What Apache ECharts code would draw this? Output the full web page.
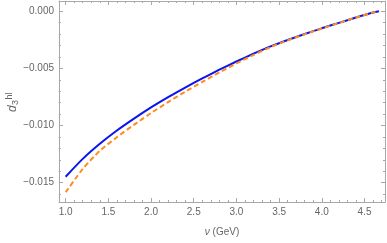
<!DOCTYPE html>
<html>
<head>
<meta charset="utf-8">
<script src="https://cdn.jsdelivr.net/npm/echarts@6/dist/echarts.min.js"></script>
<style>html,body{margin:0;padding:0;background:#fff}#c{width:387px;height:243px}</style>
</head>
<body>
<div id="c"></div>
<script>
var X_VALUES = [1.0,1.2,1.4,1.6,1.8,2.0,2.2,2.4,2.6,2.8,3.0,3.2,3.4,3.6,3.8,4.0,4.2,4.4,4.6,4.67];
var BLUE_SOLID = [-0.01448,-0.01292,-0.01160,-0.01044,-0.00940,-0.00842,-0.00752,-0.00668,-0.00588,-0.00512,-0.00440,-0.00372,-0.00308,-0.00252,-0.00200,-0.00150,-0.00102,-0.00056,-0.00012,0];
var ORANGE_DASHED = [-0.01584,-0.01380,-0.01222,-0.01102,-0.00994,-0.00891,-0.00795,-0.00705,-0.00619,-0.00536,-0.00457,-0.00383,-0.00314,-0.00255,-0.00202,-0.00151,-0.00103,-0.00056,-0.00012,0];
var X_TICKS = [1.0,1.5,2.0,2.5,3.0,3.5,4.0,4.5];
var X_MINOR = [1.1,1.2,1.3,1.4,1.6,1.7,1.8,1.9,2.1,2.2,2.3,2.4,2.6,2.7,2.8,2.9,3.1,3.2,3.3,3.4,3.6,3.7,3.8,3.9,4.1,4.2,4.3,4.4,4.6,4.7];
var Y_TICKS = [-0.015,-0.010,-0.005,0.000];
var Y_MINOR = [-0.016,-0.014,-0.013,-0.012,-0.011,-0.009,-0.008,-0.007,-0.006,-0.004,-0.003,-0.002,-0.001];
var X_RANGE = [0.922, 4.74];
var Y_RANGE = [-0.01669, 0.00089];

var FRAME = '#a8a8a8';
var LABEL = '#666666';
var FONT = 'Liberation Sans, Arial, sans-serif';

function pair(a, b) { return a.map(function (v, i) { return [v, b[i]]; }); }

function xAx(pos, ticks, len, labels, line) {
  return {
    type: 'value', position: pos, min: X_RANGE[0], max: X_RANGE[1],
    axisLine: { show: line, onZero: false, lineStyle: { color: FRAME, width: 1 } },
    axisTick: { show: true, inside: true, length: len, customValues: ticks, lineStyle: { color: FRAME } },
    axisLabel: labels ? { show: true, customValues: ticks, color: LABEL, fontFamily: FONT, fontSize: 10, margin: 5,
      formatter: function (v) { return v.toFixed(1); } } : { show: false },
    splitLine: { show: false }
  };
}
function yAx(pos, ticks, len, labels, line) {
  return {
    type: 'value', position: pos, min: Y_RANGE[0], max: Y_RANGE[1],
    axisLine: { show: line, onZero: false, lineStyle: { color: FRAME, width: 1 } },
    axisTick: { show: true, inside: true, length: len, customValues: ticks, lineStyle: { color: FRAME } },
    axisLabel: labels ? { show: true, customValues: ticks, color: LABEL, fontFamily: FONT, fontSize: 10, margin: 5,
      formatter: function (v) { return v.toFixed(3).replace('-', '\u2212'); } } : { show: false },
    splitLine: { show: false }
  };
}

var xMain = xAx('bottom', X_TICKS, 4, true, true);
xMain.name = '{i|\u03bd} (GeV)';
xMain.nameLocation = 'middle';
xMain.nameGap = 25;
xMain.nameTextStyle = { color: LABEL, fontFamily: FONT, fontSize: 10,
  rich: { i: { fontStyle: 'italic', color: LABEL, fontFamily: FONT, fontSize: 10 } } };

var chart = echarts.init(document.getElementById('c'), null, { renderer: 'canvas' });
chart.setOption({
  animation: false,
  backgroundColor: '#fff',
  grid: { left: 59, right: 2, top: 1, bottom: 41, containLabel: false },
  xAxis: [xMain, xAx('bottom', X_MINOR, 2, false, false), xAx('top', X_TICKS, 4, false, true), xAx('top', X_MINOR, 2, false, false)],
  yAxis: [yAx('left', Y_TICKS, 4, true, true), yAx('left', Y_MINOR, 2, false, false), yAx('right', Y_TICKS, 4, false, true), yAx('right', Y_MINOR, 2, false, false)],
  graphic: [{
    type: 'group', x: 13, y: 112, rotation: Math.PI / 2,
    children: [
      { type: 'text', x: 0, y: 0, style: { text: 'd', font: 'italic 12px ' + FONT, fill: LABEL, verticalAlign: 'middle', align: 'left' } },
      { type: 'text', x: 7, y: 3, style: { text: '3', font: '9px ' + FONT, fill: LABEL, verticalAlign: 'middle', align: 'left' } },
      { type: 'text', x: 12.5, y: -3.5, style: { text: 'hl', font: '9px ' + FONT, fill: LABEL, verticalAlign: 'middle', align: 'left' } }
    ]
  }],
  series: [
    { type: 'line', data: pair(X_VALUES, BLUE_SOLID), showSymbol: false, smooth: 0.25,
      lineStyle: { color: '#0a14f0', width: 2 }, xAxisIndex: 0, yAxisIndex: 0, z: 2 },
    { type: 'line', data: pair(X_VALUES, ORANGE_DASHED), showSymbol: false, smooth: 0.25,
      lineStyle: { color: '#ff8c1e', width: 2, type: [5, 3] }, xAxisIndex: 0, yAxisIndex: 0, z: 3 }
  ]
});
</script>
</body>
</html>
